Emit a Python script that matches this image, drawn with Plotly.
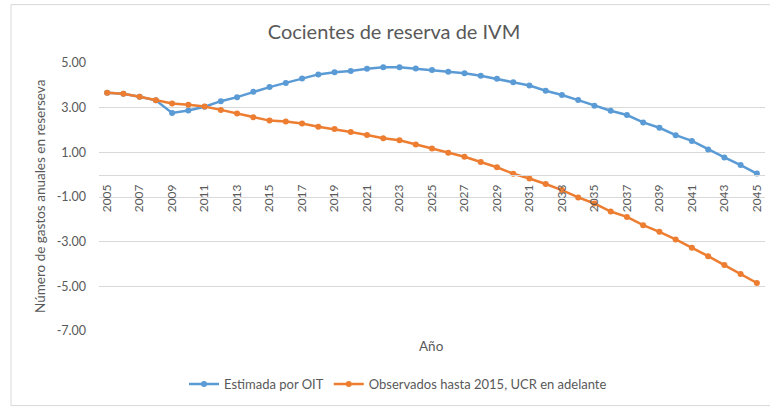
import plotly.graph_objects as go

years = list(range(2005, 2046))

estimada_oit = [3.67, 3.62, 3.49, 3.33, 2.76, 2.87, 3.04, 3.29, 3.47, 3.71,
                3.92, 4.11, 4.31, 4.49, 4.59, 4.64, 4.74, 4.81, 4.81, 4.75,
                4.69, 4.61, 4.54, 4.43, 4.29, 4.14, 3.99, 3.76, 3.57, 3.34,
                3.09, 2.86, 2.67, 2.34, 2.10, 1.77, 1.51, 1.13, 0.77, 0.43,
                0.05]

observados_ucr = [3.67, 3.62, 3.49, 3.33, 3.19, 3.13, 3.05, 2.90, 2.74, 2.57,
                  2.42, 2.38, 2.29, 2.15, 2.04, 1.91, 1.78, 1.63, 1.54, 1.35,
                  1.17, 0.98, 0.80, 0.57, 0.33, 0.04, -0.17, -0.42, -0.69, -1.02,
                  -1.29, -1.65, -1.89, -2.26, -2.56, -2.90, -3.27, -3.65, -4.05, -4.45,
                  -4.85]

y_ticks = [-7, -5, -3, -1, 1, 3, 5]
x_ticks = list(range(2005, 2046, 2))

FONT = "Lato, 'Liberation Sans', sans-serif"
GRAY = "#595959"
GRID = "#d9d9d9"

fig = go.Figure()
fig.add_trace(go.Scatter(
    x=years, y=estimada_oit, name="Estimada por OIT",
    mode="lines+markers",
    line=dict(color="#5b9bd5", width=2.5),
    marker=dict(color="#5b9bd5", size=6),
))
fig.add_trace(go.Scatter(
    x=years, y=observados_ucr, name="Observados hasta 2015, UCR en adelante",
    mode="lines+markers",
    line=dict(color="#ed7d31", width=2.5),
    marker=dict(color="#ed7d31", size=6),
))

fig.update_layout(
    width=770, height=407,
    margin=dict(l=99, r=5, t=63, b=76),
    paper_bgcolor="white", plot_bgcolor="white",
    font=dict(family=FONT, color=GRAY, size=12),
    title=dict(text="Cocientes de reserva de IVM", x=394/770, xanchor="center",
               y=1 - 32/407, yanchor="middle",
               font=dict(family=FONT, size=20, color=GRAY)),
    xaxis=dict(
        range=[2004.5, 2045.5], tickmode="array", tickvals=x_ticks,
        ticktext=[str(v) for v in x_ticks], tickangle=-90,
        anchor="free", position=7/12, showgrid=False, zeroline=False,
        showline=True, linecolor=GRID, linewidth=1, ticks="",
        ticklabelstandoff=4,
        tickfont=dict(size=12, color=GRAY),
    ),
    yaxis=dict(
        range=[-7, 5], tickmode="array", tickvals=y_ticks,
        ticktext=["%.2f" % v for v in y_ticks],
        showgrid=True, gridcolor=GRID, gridwidth=1, zeroline=False,
        showline=False, ticks="", ticklabelstandoff=12,
        tickfont=dict(size=12.5, color=GRAY),
    ),
    showlegend=True,
    legend=dict(orientation="h", x=(398 - 99) / 666, xanchor="center",
                y=(331 - 384) / 267.7, yanchor="middle",
                font=dict(size=13, color=GRAY), itemwidth=30,
                traceorder="normal"),
    annotations=[
        dict(text="Número de gastos anuales en reserseva", textangle=-90,
             xref="paper", yref="paper", x=(40 - 99) / 666, y=0.5,
             showarrow=False, xanchor="center", yanchor="middle",
             font=dict(size=13.5, color=GRAY)),
        dict(text="Año", xref="paper", yref="paper",
             x=(431 - 99) / 666, y=(331 - 346) / 267.7,
             showarrow=False, xanchor="center", yanchor="middle",
             font=dict(size=13.5, color=GRAY)),
    ],
    shapes=[
        dict(type="rect", xref="paper", yref="paper",
             x0=(11 - 99) / 666, x1=1.1, y0=(331 - 405.5) / 267.7,
             y1=(331 - 5) / 267.7,
             line=dict(color="#d9d9d9", width=1), fillcolor="rgba(0,0,0,0)",
             layer="below"),
    ],
)

fig.write_html("out.html", config={"displayModeBar": False},
               post_script="document.body.style.margin='0';document.body.style.overflow='hidden';")
